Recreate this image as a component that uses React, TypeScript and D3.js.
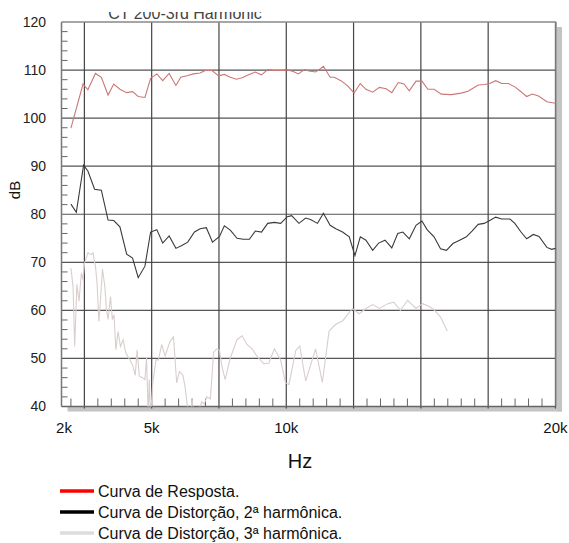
import React, { useEffect, useRef } from "react";
import * as d3 from "d3";

// frequencies in kHz, levels in dB
const respFreq = [2.0, 2.45, 2.63, 2.91, 3.13, 3.38, 3.59, 3.82, 4.07, 4.29, 4.5, 4.75, 4.96, 5.19, 5.41, 5.65, 5.9, 6.08, 6.31, 6.55, 6.8, 6.99, 7.24, 7.49, 7.7, 7.92, 8.15, 8.36, 8.6, 8.85, 9.08, 9.31, 9.54, 9.79, 10.04, 10.26, 10.45, 10.68, 10.84, 11.09, 11.22, 11.38, 11.63, 11.78, 12.03, 12.28, 12.52, 12.75, 12.96, 13.21, 13.46, 13.71, 13.92, 14.16, 14.37, 14.57, 14.82, 15.04, 15.26, 15.49, 15.76, 16.13, 16.5, 16.75, 17.13, 17.37, 17.56, 17.78, 18.0, 18.25, 18.49, 18.72, 18.93, 19.14, 19.37, 19.68, 20.0];
const respDb = [97.9, 107.1, 105.9, 109.3, 108.5, 104.8, 107.1, 106.0, 105.3, 105.5, 104.5, 104.3, 108.3, 109.2, 107.8, 109.3, 106.8, 108.5, 108.8, 109.2, 109.4, 109.9, 109.9, 108.8, 109.1, 108.5, 108.1, 108.4, 109.0, 109.6, 109.0, 110.1, 109.9, 109.9, 110.0, 109.7, 109.2, 110.1, 109.8, 109.6, 110.1, 110.8, 108.5, 108.5, 107.8, 106.7, 105.2, 107.2, 106.0, 105.4, 106.4, 106.1, 105.3, 107.4, 107.1, 105.7, 107.7, 107.7, 106.0, 106.0, 105.0, 104.9, 105.2, 105.6, 106.9, 107.0, 107.2, 107.8, 107.2, 107.2, 106.5, 105.5, 104.5, 105.0, 104.6, 103.4, 103.1];

const h2Freq = [2.0, 2.2, 2.47, 2.63, 2.88, 3.13, 3.38, 3.59, 3.82, 4.07, 4.29, 4.5, 4.75, 4.96, 5.19, 5.41, 5.65, 5.9, 6.12, 6.34, 6.59, 6.8, 7.03, 7.26, 7.52, 7.7, 7.92, 8.17, 8.4, 8.63, 8.85, 9.08, 9.31, 9.56, 9.79, 10.04, 10.2, 10.47, 10.72, 10.9, 11.16, 11.38, 11.63, 11.84, 12.09, 12.34, 12.55, 12.75, 12.96, 13.21, 13.43, 13.67, 13.92, 14.14, 14.33, 14.57, 14.82, 15.04, 15.23, 15.49, 15.73, 15.95, 16.19, 16.44, 16.69, 16.9, 17.13, 17.35, 17.59, 17.78, 18.0, 18.31, 18.49, 18.72, 18.93, 19.18, 19.39, 19.68, 19.86, 20.0];
const h2Db = [82.1, 80.4, 90.2, 89.0, 85.2, 85.0, 78.8, 78.7, 77.4, 71.7, 70.9, 66.8, 69.2, 76.3, 76.8, 74.0, 75.5, 72.9, 73.5, 74.2, 76.3, 77.0, 77.2, 74.2, 75.4, 77.6, 76.7, 75.0, 74.8, 74.8, 76.5, 76.3, 78.1, 78.3, 78.1, 79.5, 79.7, 78.1, 79.2, 78.9, 78.1, 80.2, 77.7, 77.0, 76.3, 75.3, 71.4, 75.3, 74.6, 72.5, 74.0, 74.6, 73.0, 76.0, 76.3, 74.9, 77.7, 78.6, 76.8, 75.3, 72.8, 72.5, 73.9, 74.6, 75.3, 76.5, 77.9, 78.1, 78.8, 79.4, 79.0, 79.0, 78.1, 76.3, 74.9, 75.8, 75.4, 73.1, 72.7, 72.9];

const h3Freq = [2.0, 2.08, 2.14, 2.22, 2.3, 2.39, 2.45, 2.51, 2.63, 2.76, 2.82, 2.92, 2.97, 3.04, 3.1, 3.17, 3.26, 3.32, 3.38, 3.47, 3.54, 3.6, 3.67, 3.75, 3.84, 3.94, 4.04, 4.19, 4.31, 4.39, 4.46, 4.54, 4.66, 4.75, 4.81, 4.87, 4.91, 4.96, 5.04, 5.16, 5.25, 5.37, 5.5, 5.68, 5.81, 5.93, 6.03, 6.16, 6.24, 6.33, 6.42, 6.5, 6.6, 6.86, 6.95, 7.05, 7.18, 7.3, 7.42, 7.52, 7.61, 7.73, 7.92, 8.17, 8.36, 8.54, 8.73, 8.92, 9.16, 9.35, 9.56, 9.79, 9.97, 10.1, 10.35, 10.5, 10.72, 11.09, 11.34, 11.59, 11.84, 12.09, 12.46, 12.71, 12.96, 13.21, 13.46, 13.77, 13.99, 14.24, 14.51, 14.82, 15.07, 15.32, 15.51, 15.73, 15.98];
const h3Db = [68.8, 65.0, 52.5, 65.4, 61.9, 67.8, 66.4, 69.9, 72.0, 71.6, 72.0, 68.8, 65.7, 57.7, 62.2, 68.6, 65.0, 60.1, 58.1, 62.9, 58.1, 59.1, 51.8, 55.6, 52.5, 53.9, 51.1, 49.7, 48.3, 46.5, 51.8, 46.3, 46.0, 45.6, 50.1, 38.0, 45.6, 38.0, 44.9, 49.7, 49.7, 52.9, 50.5, 53.5, 54.5, 44.9, 47.3, 46.5, 44.1, 40.0, 37.0, 41.5, 37.0, 41.0, 40.5, 42.0, 41.6, 51.3, 52.0, 51.7, 48.3, 45.6, 50.1, 53.9, 54.7, 52.9, 52.0, 50.4, 48.9, 49.0, 52.0, 49.7, 44.9, 44.6, 51.6, 52.6, 45.3, 52.0, 45.0, 55.7, 57.1, 57.8, 60.4, 59.3, 60.4, 61.2, 60.4, 61.4, 61.7, 60.0, 62.1, 60.4, 61.4, 60.8, 60.0, 58.6, 55.7];

const gridFreqs = [2.5, 5, 7.5, 10, 12.5, 15, 17.5, 20];
const xTickValues = [2, 5, 10, 20];
const xTickLabels = ["2k", "5k", "10k", "20k"];
const yTickValues = [40, 50, 60, 70, 80, 90, 100, 110, 120];

const legendItems = [
  { label: "Curva de Resposta.", color: "#ff0000" },
  { label: "Curva de Distorção, 2ª harmônica.", color: "#000000" },
  { label: "Curva de Distorção, 3ª harmônica.", color: "#dddddd" },
];

const W = 569;
const H = 543;
const FONT = "'Liberation Sans', Arial, sans-serif";

export default function App() {
  const ref = useRef<SVGSVGElement>(null);

  useEffect(() => {
    const svg = d3.select(ref.current);
    svg.selectAll("*").remove();

    const left = 61.5, right = 556, top = 22, bottom = 406.5;
    const x = d3.scaleLinear().domain([1.65, 20.02]).range([left, right]);
    const y = d3.scaleLinear().domain([40, 120]).range([bottom, top]);

    const defs = svg.append("defs");
    defs.append("clipPath").attr("id", "plotClip")
      .append("rect").attr("x", left).attr("y", top).attr("width", right - left).attr("height", bottom - top);
    defs.append("clipPath").attr("id", "titleClip")
      .append("rect").attr("x", 0).attr("y", 12).attr("width", W).attr("height", 20);

    // title, cut off at the top
    svg.append("text")
      .attr("x", 185).attr("y", 18.5)
      .attr("text-anchor", "middle")
      .attr("clip-path", "url(#titleClip)")
      .style("font-family", FONT).style("font-size", "16px").attr("fill", "#444")
      .text("CT 200-3rd Harmonic");

    // drop shadow
    svg.append("rect").attr("x", left + 6).attr("y", bottom).attr("width", right - left).attr("height", 5).attr("fill", "#c4c4c4");
    svg.append("rect").attr("x", right + 1).attr("y", top + 5).attr("width", 5).attr("height", bottom - top).attr("fill", "#c4c4c4");

    svg.append("rect").attr("x", left).attr("y", top).attr("width", right - left).attr("height", bottom - top).attr("fill", "#fff");

    const g = svg.append("g");

    // horizontal grid
    g.selectAll("line.hg").data(yTickValues.filter((v) => v > 40 && v < 120)).enter()
      .append("line").attr("class", "hg")
      .attr("x1", left).attr("x2", right)
      .attr("y1", (d) => y(d)).attr("y2", (d) => y(d))
      .attr("stroke", "#555").attr("stroke-width", 1.2);

    // vertical grid
    g.selectAll("line.vg").data(gridFreqs).enter()
      .append("line").attr("class", "vg")
      .attr("x1", (d) => x(d)).attr("x2", (d) => x(d))
      .attr("y1", top).attr("y2", bottom + 2)
      .attr("stroke", "#444").attr("stroke-width", 1.2);

    // minor ticks
    const yMinor = d3.range(42, 120, 2).filter((v) => v % 10 !== 0);
    g.selectAll("line.ym").data(yMinor).enter()
      .append("line").attr("class", "ym")
      .attr("x1", left).attr("x2", left + 6)
      .attr("y1", (d) => y(d)).attr("y2", (d) => y(d))
      .attr("stroke", "#666").attr("stroke-width", 1);
    const xMinor = d3.range(2, 20, 0.5).filter((v) => gridFreqs.indexOf(v) < 0);
    g.selectAll("line.xm").data(xMinor).enter()
      .append("line").attr("class", "xm")
      .attr("x1", (d) => x(d)).attr("x2", (d) => x(d))
      .attr("y1", bottom).attr("y2", bottom - 8)
      .attr("stroke", "#666").attr("stroke-width", 1);

    // frame
    g.append("line").attr("x1", left).attr("x2", right).attr("y1", top).attr("y2", top).attr("stroke", "#888").attr("stroke-width", 1.5);
    g.append("line").attr("x1", left).attr("x2", left).attr("y1", top).attr("y2", bottom).attr("stroke", "#777").attr("stroke-width", 1.5);
    g.append("line").attr("x1", right).attr("x2", right).attr("y1", top).attr("y2", bottom).attr("stroke", "#888").attr("stroke-width", 1.5);
    g.append("line").attr("x1", left).attr("x2", right).attr("y1", bottom).attr("y2", bottom).attr("stroke", "#666").attr("stroke-width", 1.5);

    // curves
    const line = d3.line<[number, number]>().x((d) => x(d[0])).y((d) => y(d[1]));
    const curves = [
      { f: h3Freq, v: h3Db, color: "#dacdcd" },
      { f: h2Freq, v: h2Db, color: "#3a3a3a" },
      { f: respFreq, v: respDb, color: "#cc7777" },
    ];
    curves.forEach((c) => {
      const pts = c.f.map((f, i) => [f, c.v[i]] as [number, number]);
      g.append("path").attr("d", line(pts)).attr("fill", "none")
        .attr("stroke", c.color).attr("stroke-width", 1.1)
        .attr("clip-path", "url(#plotClip)");
    });

    // y labels
    svg.selectAll("text.yl").data(yTickValues).enter()
      .append("text").attr("class", "yl")
      .attr("x", 46).attr("y", (d) => y(d)).attr("dy", "0.35em")
      .attr("text-anchor", "end")
      .style("font-family", FONT).style("font-size", "14px").attr("fill", "#222")
      .text((d) => d);

    // x labels
    svg.selectAll("text.xl").data(xTickValues).enter()
      .append("text").attr("class", "xl")
      .attr("x", (d, i) => (i === 0 ? x(d) + 1 : x(d)))
      .attr("y", 433)
      .attr("text-anchor", (d, i) => (i === 0 ? "end" : "middle"))
      .style("font-family", FONT).style("font-size", "15px").attr("fill", "#111")
      .text((d, i) => xTickLabels[i]);

    svg.append("text").attr("x", 300).attr("y", 468).attr("text-anchor", "middle")
      .style("font-family", FONT).style("font-size", "20px").attr("fill", "#111").text("Hz");

    svg.append("text").attr("transform", "translate(20,190) rotate(-90)").attr("text-anchor", "middle")
      .style("font-family", FONT).style("font-size", "15px").attr("fill", "#111").text("dB");

    // legend
    const lg = svg.selectAll("g.lg").data(legendItems).enter()
      .append("g").attr("class", "lg")
      .attr("transform", (d, i) => `translate(0,${491 + i * 21})`);
    lg.append("line").attr("x1", 60).attr("x2", 94).attr("y1", 0).attr("y2", 0)
      .attr("stroke", (d) => d.color).attr("stroke-width", 3.5);
    lg.append("text").attr("x", 98).attr("y", 0).attr("dy", "0.35em")
      .style("font-family", FONT).style("font-size", "16px").attr("fill", "#111")
      .text((d) => d.label);
  }, []);

  return (
    <svg ref={ref} width={W} height={H}
      style={{ position: "absolute", left: 0, top: 0, background: "#fff" }} />
  );
}
